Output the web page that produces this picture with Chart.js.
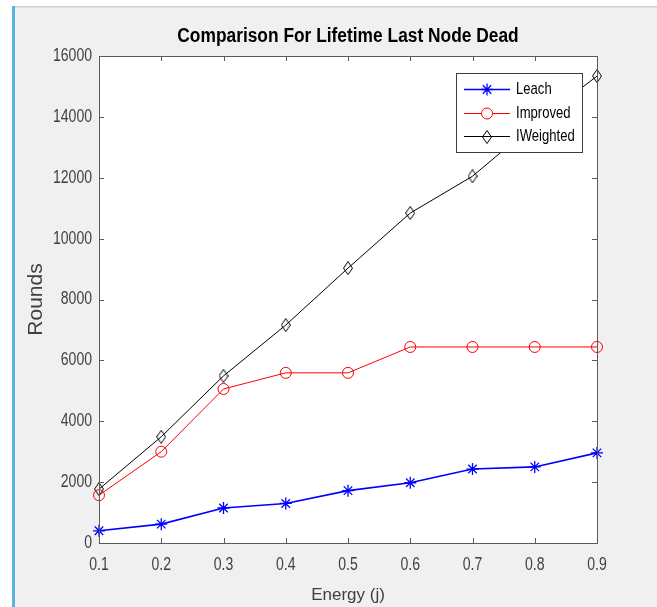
<!DOCTYPE html>
<html><head><meta charset="utf-8">
<script src="https://cdn.jsdelivr.net/npm/chart.js@4"></script>
<style>html,body{margin:0;padding:0;background:#fff}#wrap{width:657px;height:607px;position:relative}</style>
</head><body><div id="wrap"><canvas id="c" width="657" height="607"></canvas></div>
<script>
const TITLE = 'Comparison For Lifetime Last Node Dead';
const X_TITLE = 'Energy (j)';
const Y_TITLE = 'Rounds';
const energy = ['0.1', '0.2', '0.3', '0.4', '0.5', '0.6', '0.7', '0.8', '0.9'];
const leach = [400, 620, 1150, 1300, 1720, 1980, 2430, 2500, 2960];
const improved = [1570, 3000, 5060, 5590, 5590, 6440, 6440, 6440, 6440];
const iweighted = [1770, 3490, 5490, 7160, 9030, 10840, 12050, 13770, 15340];
const Y_MIN = 0, Y_MAX = 16000, Y_STEP = 2000;

const FONT = "'Liberation Sans', Arial, Helvetica, sans-serif";
const TEXT_GRAY = '#404040';

// draws text horizontally condensed (the reference uses a narrow face)
function narrowText(ctx, text, x, y, align, font, sx, color) {
  ctx.save();
  ctx.translate(x, y);
  ctx.scale(sx, 1);
  ctx.font = font;
  ctx.fillStyle = color;
  ctx.textAlign = align;
  ctx.textBaseline = 'middle';
  ctx.fillText(text, 0, 0);
  ctx.restore();
}

function diamondCanvas() {
  const cv = document.createElement('canvas');
  cv.width = 10; cv.height = 14;
  const g = cv.getContext('2d');
  g.strokeStyle = '#000'; g.lineWidth = 1;
  g.beginPath();
  g.moveTo(5, 0.5); g.lineTo(9.5, 7); g.lineTo(5, 13.5); g.lineTo(0.5, 7); g.closePath();
  g.stroke();
  return cv;
}
const DIAMOND = diamondCanvas();

const bgPlugin = {
  id: 'bg',
  beforeDraw(chart) {
    const ctx = chart.ctx, a = chart.chartArea;
    ctx.save();
    ctx.fillStyle = '#ffffff'; ctx.fillRect(0, 0, chart.width, chart.height);
    ctx.fillStyle = '#f0f0f0'; ctx.fillRect(12, 7, chart.width - 12, chart.height - 7);
    ctx.fillStyle = '#d0d0d0'; ctx.fillRect(12, 6, chart.width - 12, 1.5);
    ctx.fillStyle = '#5ab4e6'; ctx.fillRect(12, 6, 3, chart.height - 6);
    ctx.fillStyle = '#ffffff'; ctx.fillRect(a.left, a.top, a.right - a.left, a.bottom - a.top);
    ctx.restore();
    narrowText(ctx, TITLE, (a.left + a.right) / 2, 37, 'center', 'bold 19.5px ' + FONT, 0.89, '#000');
    // tick labels, positioned by the library's scales
    const xs = chart.scales.x, ys = chart.scales.y;
    const tickFont = '18px ' + FONT;
    ys.ticks.forEach(t => {
      narrowText(ctx, String(t.value), a.left - 7, ys.getPixelForValue(t.value), 'right', tickFont, 0.78, TEXT_GRAY);
    });
    xs.ticks.forEach((t, i) => {
      narrowText(ctx, energy[i], xs.getPixelForTick(i), a.bottom + 22, 'center', tickFont, 0.78, TEXT_GRAY);
    });
  }
};

const boxPlugin = {
  id: 'box',
  afterDatasetsDraw(chart) {
    const ctx = chart.ctx, a = chart.chartArea;
    const xs = chart.scales.x, ys = chart.scales.y;
    ctx.save();
    ctx.strokeStyle = '#5a5a5a'; ctx.lineWidth = 1;
    ctx.strokeRect(Math.round(a.left) + 0.5, Math.round(a.top) + 0.5,
                   Math.round(a.right - a.left), Math.round(a.bottom - a.top));
    ctx.beginPath();
    const TL = 5;
    ys.ticks.forEach(t => {
      const y = Math.round(ys.getPixelForValue(t.value)) + 0.5;
      ctx.moveTo(a.left, y); ctx.lineTo(a.left + TL, y);
      ctx.moveTo(a.right, y); ctx.lineTo(a.right - TL, y);
    });
    xs.ticks.forEach((t, i) => {
      const x = Math.round(xs.getPixelForTick(i)) + 0.5;
      ctx.moveTo(x, a.bottom); ctx.lineTo(x, a.bottom - TL);
      ctx.moveTo(x, a.top); ctx.lineTo(x, a.top + TL);
    });
    ctx.stroke();
    ctx.restore();
  },
  afterDraw(chart) {
    // legend box
    const ctx = chart.ctx;
    const L = 456, T = 73, R = 582, B = 152;
    ctx.save();
    ctx.fillStyle = '#fff'; ctx.fillRect(L, T, R - L, B - T);
    ctx.strokeStyle = '#3c3c3c'; ctx.lineWidth = 1;
    ctx.strokeRect(L + 0.5, T + 0.5, R - L, B - T);
    const rows = [89, 113, 136];
    chart.data.datasets.forEach((ds, i) => {
      const y = rows[i] + 0.5;
      ctx.strokeStyle = ds.borderColor; ctx.lineWidth = ds.borderWidth;
      ctx.beginPath(); ctx.moveTo(464, y); ctx.lineTo(510, y); ctx.stroke();
      const cx = 487;
      if (ds.pointStyle === 'star') {
        ctx.lineWidth = 1.3; ctx.beginPath();
        const r = 6;
        for (let k = 0; k < 4; k++) {
          const ang = k * Math.PI / 4;
          ctx.moveTo(cx - r * Math.cos(ang), y - r * Math.sin(ang));
          ctx.lineTo(cx + r * Math.cos(ang), y + r * Math.sin(ang));
        }
        ctx.stroke();
      } else if (ds.pointStyle === 'circle') {
        ctx.lineWidth = 1; ctx.fillStyle = '#fff';
        ctx.beginPath(); ctx.arc(cx, y, 5.5, 0, Math.PI * 2); ctx.fill(); ctx.stroke();
      } else {
        ctx.drawImage(DIAMOND, cx - 5, Math.round(y) - 7);
      }
      narrowText(ctx, ds.label, 516, y, 'left', '17px ' + FONT, 0.77, '#000');
    });
    ctx.restore();
  }
};

new Chart(document.getElementById('c'), {
  type: 'line',
  data: {
    labels: energy,
    datasets: [
      { label: 'Leach', data: leach, borderColor: '#0000ff', backgroundColor: '#0000ff',
        borderWidth: 1.6, pointStyle: 'star', pointRadius: 6, pointBorderWidth: 1.3,
        pointBorderColor: '#0000ff', tension: 0, fill: false },
      { label: 'Improved', data: improved, borderColor: '#ff0000', backgroundColor: 'rgba(0,0,0,0)',
        borderWidth: 1, pointStyle: 'circle', pointRadius: 5.5, pointBorderWidth: 1,
        pointBorderColor: '#ff0000', tension: 0, fill: false },
      { label: 'IWeighted', data: iweighted, borderColor: '#000000', backgroundColor: 'rgba(0,0,0,0)',
        borderWidth: 1, pointStyle: DIAMOND, pointRadius: 6, tension: 0, fill: false }
    ]
  },
  options: {
    responsive: false,
    animation: false,
    devicePixelRatio: 1,
    layout: { padding: { left: 0, right: 60, top: 56, bottom: 0 } },
    plugins: { legend: { display: false }, title: { display: false }, tooltip: { enabled: false } },
    scales: {
      x: {
        type: 'category', offset: false,
        grid: { display: false }, border: { display: false },
        ticks: { display: false },
        title: { display: true, text: X_TITLE, color: TEXT_GRAY, font: { family: FONT, size: 17 }, padding: { top: 0, bottom: 1 } },
        afterFit(s) { s.height = 64; }
      },
      y: {
        min: Y_MIN, max: Y_MAX,
        grid: { display: false }, border: { display: false },
        ticks: { display: false, stepSize: Y_STEP },
        title: { display: true, text: Y_TITLE, color: TEXT_GRAY, font: { family: FONT, size: 21 }, padding: { top: 24, bottom: 0 } },
        afterFit(s) { s.width = 99; }
      }
    }
  },
  plugins: [bgPlugin, boxPlugin]
});
</script>
</body></html>
